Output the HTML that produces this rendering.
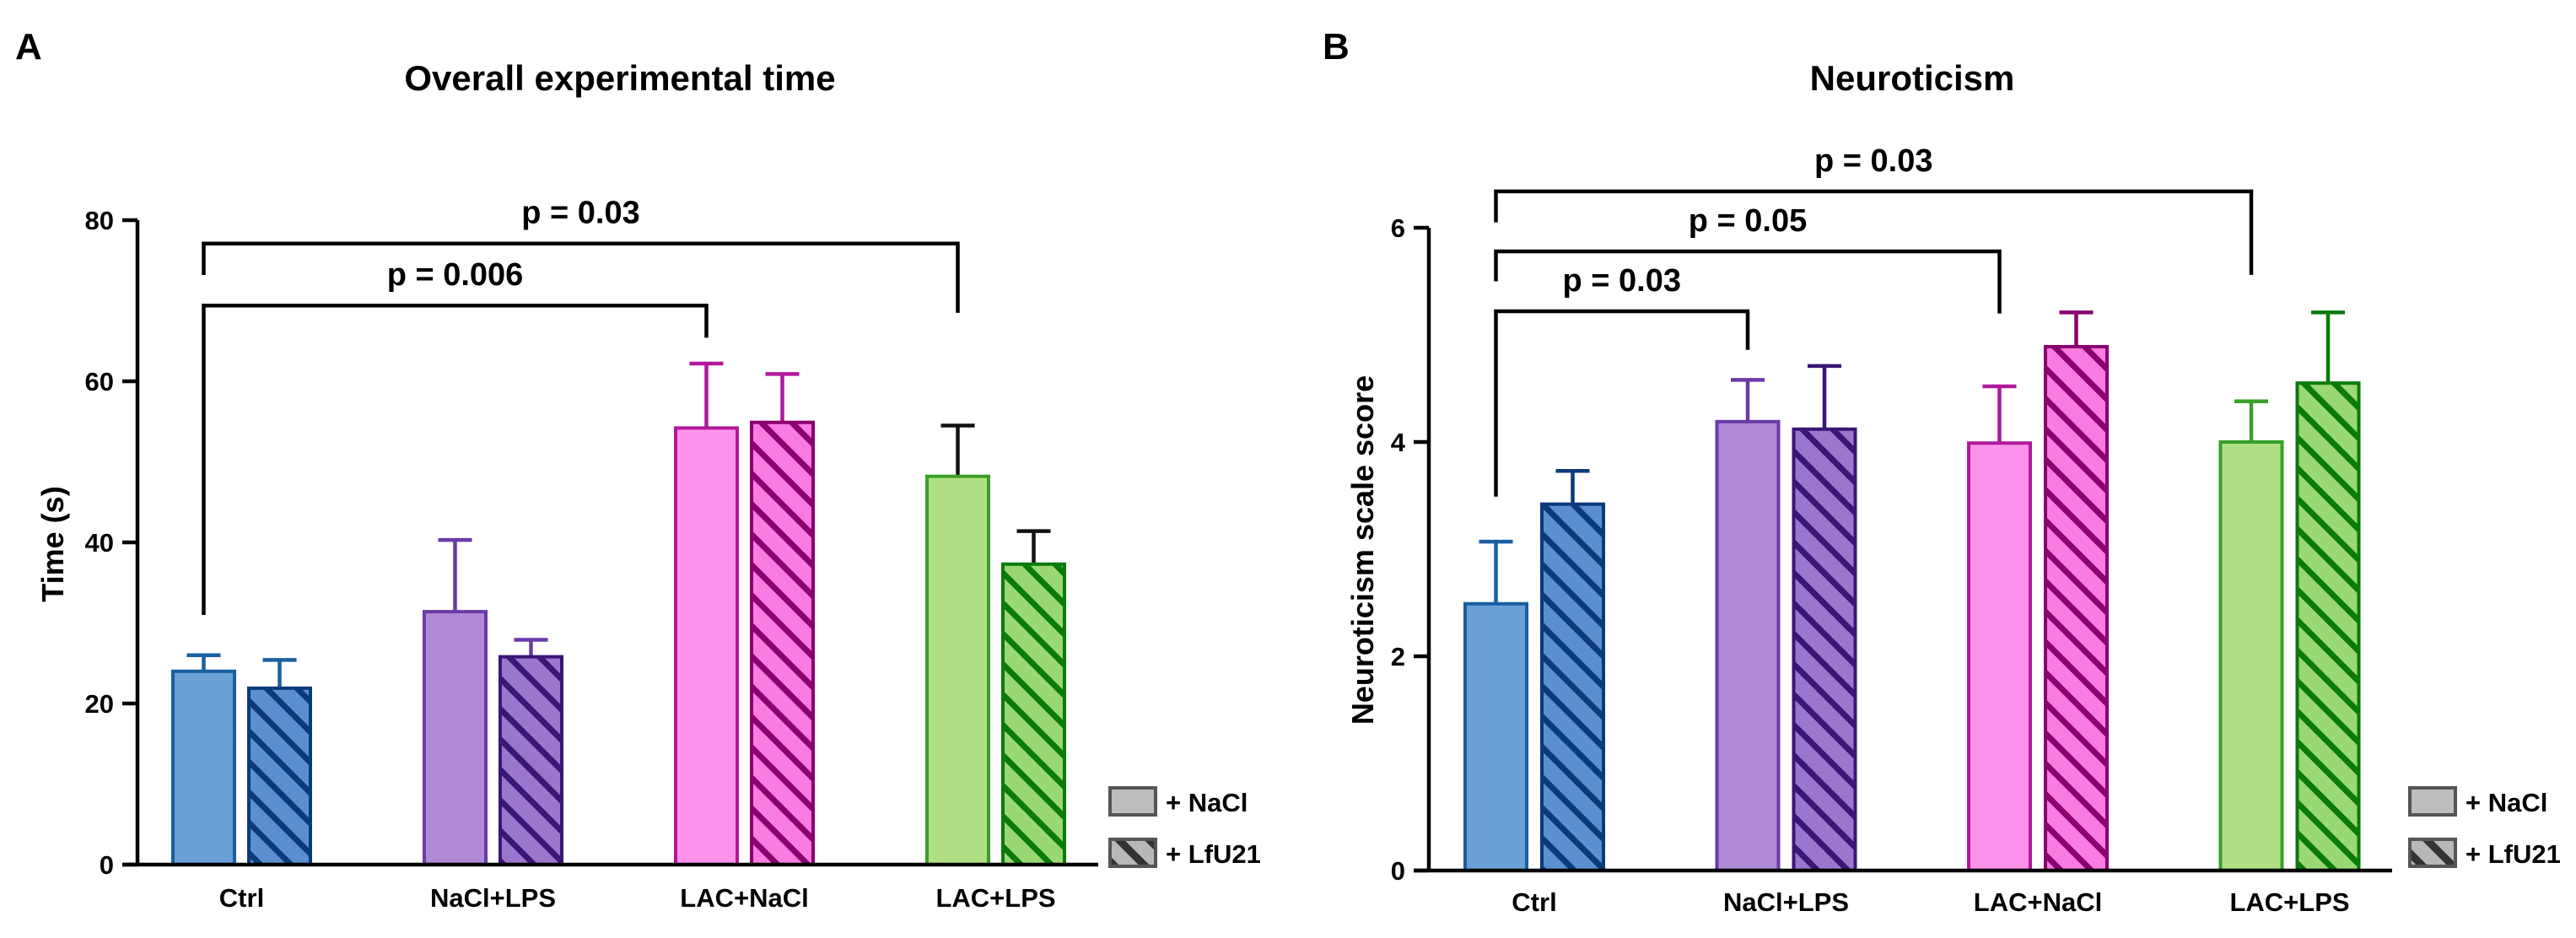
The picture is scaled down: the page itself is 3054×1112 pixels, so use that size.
<!DOCTYPE html>
<html><head><meta charset="utf-8"><style>
html,body{margin:0;padding:0;background:#fff;}
svg{display:block;font-family:"Liberation Sans",Arial,sans-serif;font-weight:bold;}
</style></head><body>
<svg id="fig" width="3054" height="1112" viewBox="0 0 3054 1112">
<defs>
<pattern id="h-blue" patternUnits="userSpaceOnUse" width="25.5" height="10" patternTransform="rotate(-45)"><rect width="25.5" height="10" fill="#5a8fd0"/><rect width="7" height="10" fill="#0b3a7a"/></pattern>
<pattern id="h-purple" patternUnits="userSpaceOnUse" width="25.5" height="10" patternTransform="rotate(-45)"><rect width="25.5" height="10" fill="#9c76cc"/><rect width="7" height="10" fill="#3a1676"/></pattern>
<pattern id="h-pink" patternUnits="userSpaceOnUse" width="25.5" height="10" patternTransform="rotate(-45)"><rect width="25.5" height="10" fill="#f97ce2"/><rect width="7" height="10" fill="#8a006e"/></pattern>
<pattern id="h-green" patternUnits="userSpaceOnUse" width="25.5" height="10" patternTransform="rotate(-45)"><rect width="25.5" height="10" fill="#9ad874"/><rect width="7" height="10" fill="#0a7a0a"/></pattern>
<pattern id="h-gray" patternUnits="userSpaceOnUse" width="25.5" height="10" patternTransform="rotate(-45)"><rect width="25.5" height="10" fill="#b8b8b8"/><rect width="9" height="10" fill="#333"/></pattern>
</defs>
</svg>
<script>
// ---- Data: panel A (Overall experimental time) ----
const categories = ["Ctrl", "NaCl+LPS", "LAC+NaCl", "LAC+LPS"];
const aNaCl = [24.0, 31.4, 54.2, 48.2];
const aNaClErr = [2.0, 8.9, 8.0, 6.3];
const aLfU = [21.9, 25.8, 54.9, 37.3];
const aLfUErr = [3.5, 2.1, 6.0, 4.1];
const aTicks = [0, 20, 40, 60, 80];
// brackets: [fromGroup, toGroup, lineValue, leftLegEnd, rightLegEnd, label]
const aBrackets = [
  [0, 2, 69.4, 31.0, 65.4, "p = 0.006"],
  [0, 3, 77.1, 73.2, 68.5, "p = 0.03"]
];
// ---- Data: panel B (Neuroticism) ----
const bNaCl = [2.49, 4.19, 3.99, 4.0];
const bNaClErr = [0.58, 0.39, 0.53, 0.38];
const bLfU = [3.42, 4.12, 4.89, 4.55];
const bLfUErr = [0.31, 0.59, 0.32, 0.66];
const bTicks = [0, 2, 4, 6];
const bBrackets = [
  [0, 1, 5.22, 3.49, 4.86, "p = 0.03"],
  [0, 2, 5.78, 5.5, 5.2, "p = 0.05"],
  [0, 3, 6.34, 6.05, 5.56, "p = 0.03"]
];

const NS = "http://www.w3.org/2000/svg";
const svg = document.getElementById("fig");
const fills = ["#6aa0d6", "#b08ad6", "#fd92ea", "#b0df86"];
const strokes = ["#1a5fa0", "#6a3aa8", "#b0189a", "#3a9f2a"];
const hatch = ["url(#h-blue)", "url(#h-purple)", "url(#h-pink)", "url(#h-green)"];
const hatchStroke = ["#0b3a7a", "#3a1676", "#8a006e", "#0a7a0a"];

function mk(tag, attrs, parent) {
  const e = document.createElementNS(NS, tag);
  for (const k in attrs) e.setAttribute(k, attrs[k]);
  (parent || svg).appendChild(e);
  return e;
}
function txt(s, attrs, parent) { const t = mk("text", attrs, parent); t.textContent = s; return t; }

function panel(cfg) {
  const g = mk("g", {});
  
  
  const y = v => cfg.y0 - (v - 0) / cfg.max * (cfg.y0 - cfg.yTop);
  const gx = i => cfg.firstBar + i * cfg.pitch;
  // letter + title
  const L = txt(cfg.letter, {x: cfg.letterX, y: 70, "font-size": 44}, g);
  
  
  const T = txt(cfg.title, {x: cfg.titleX, y: 107, "font-size": 42, "text-anchor": "middle"}, g);
  
  
  // bars
  for (let i = 0; i < categories.length; i++) {
    const series = [[cfg.nacl[i], cfg.naclErr[i], fills[i], strokes[i], 0, 'nacl'],
                    [cfg.lfu[i], cfg.lfuErr[i], hatch[i], hatchStroke[i], cfg.offset, 'lfu21']];
    series.forEach(([v, e, f, s, off, key]) => {
      const x = gx(i) + off, top = y(v);
      const errCol = cfg.errColor ? cfg.errColor(i) : s;
      const cx = x + cfg.bw / 2;
      const eb = mk("g", {stroke: errCol, "stroke-width": 4.5, fill: "none"}, g);
      
      
      mk("line", {x1: cx, x2: cx, y1: top, y2: y(v + e)}, eb);
      mk("line", {x1: cx - 20, x2: cx + 20, y1: y(v + e), y2: y(v + e)}, eb);
      const r = mk("rect", {x: x, y: top, width: cfg.bw, height: cfg.y0 - top, fill: f, stroke: s, "stroke-width": 4}, g);
      
      
    });
    const lab = txt(categories[i], {x: gx(i) + (cfg.offset + cfg.bw) / 2, y: cfg.labelY, "font-size": 31, "text-anchor": "middle"}, g);
    
    
  }
  // axes
  const ax = mk("g", {stroke: "#000", "stroke-width": 4.5}, g);
  
  
  mk("line", {x1: cfg.axisX, x2: cfg.axisX, y1: y(cfg.max), y2: cfg.y0 + 2}, ax);
  mk("line", {x1: cfg.axisX - 18, x2: cfg.xEnd, y1: cfg.y0, y2: cfg.y0}, ax);
  cfg.ticks.forEach(t => {
    mk("line", {x1: cfg.axisX - 18, x2: cfg.axisX, y1: y(t), y2: y(t)}, ax);
    const tl = txt(String(t), {x: cfg.axisX - 28, y: y(t) + 11, "font-size": 31, "text-anchor": "end"}, g);
    
    
  });
  const yt = txt(cfg.yTitle, {x: 0, y: 0, "font-size": 36, "text-anchor": "middle", transform: `translate(${cfg.yTitleX},${cfg.yTitleY}) rotate(-90)`}, g);
  
  
  // brackets
  cfg.brackets.forEach(([a, b, lv, l1, l2, label]) => {
    const xa = gx(a) + cfg.bw / 2, xb = gx(b) + cfg.bw / 2;
    const bg = mk("g", {}, g);
    
    
    mk("path", {d: `M${xa},${y(l1)} L${xa},${y(lv)} L${xb},${y(lv)} L${xb},${y(l2)}`, fill: "none", stroke: "#000", "stroke-width": 4.5}, bg);
    txt(label, {x: (xa + xb) / 2, y: y(lv) - 24, "font-size": 38, "text-anchor": "middle"}, bg);
  });
  // legend
  const lg = mk("g", {}, g);
  
  
  mk("rect", {x: cfg.legX, y: 934, width: 54, height: 32, fill: "#bdbdbd", stroke: "#555", "stroke-width": 4}, lg);
  txt("+ NaCl", {x: cfg.legX + 66, y: 962, "font-size": 31}, lg);
  mk("rect", {x: cfg.legX, y: 995, width: 54, height: 32, fill: "url(#h-gray)", stroke: "#555", "stroke-width": 4}, lg);
  txt("+ LfU21", {x: cfg.legX + 66, y: 1023, "font-size": 31}, lg);
}

panel({name: "panel-a-chart", letter: "A", letterX: 18, title: "Overall experimental time", titleX: 735,
  y0: 1025, yTop: 261, max: 80, axisX: 163, xEnd: 1302, firstBar: 205, pitch: 298, bw: 73, offset: 90,
  nacl: aNaCl, naclErr: aNaClErr, lfu: aLfU, lfuErr: aLfUErr, ticks: aTicks, brackets: aBrackets,
  yTitle: "Time (s)", yTitleX: 75, yTitleY: 645, labelY: 1075, legX: 1316,
  errColor: i => (i === 3 ? "#111" : null) || strokes[i]});
panel({name: "panel-b-chart", letter: "B", letterX: 1568, title: "Neuroticism", titleX: 2267,
  y0: 1032, yTop: 270, max: 6, axisX: 1694, xEnd: 2836, firstBar: 1737, pitch: 298.5, bw: 73, offset: 91,
  nacl: bNaCl, naclErr: bNaClErr, lfu: bLfU, lfuErr: bLfUErr, ticks: bTicks, brackets: bBrackets,
  yTitle: "Neuroticism scale score", yTitleX: 1628, yTitleY: 652, labelY: 1080, legX: 2857});
</script>
</body></html>
